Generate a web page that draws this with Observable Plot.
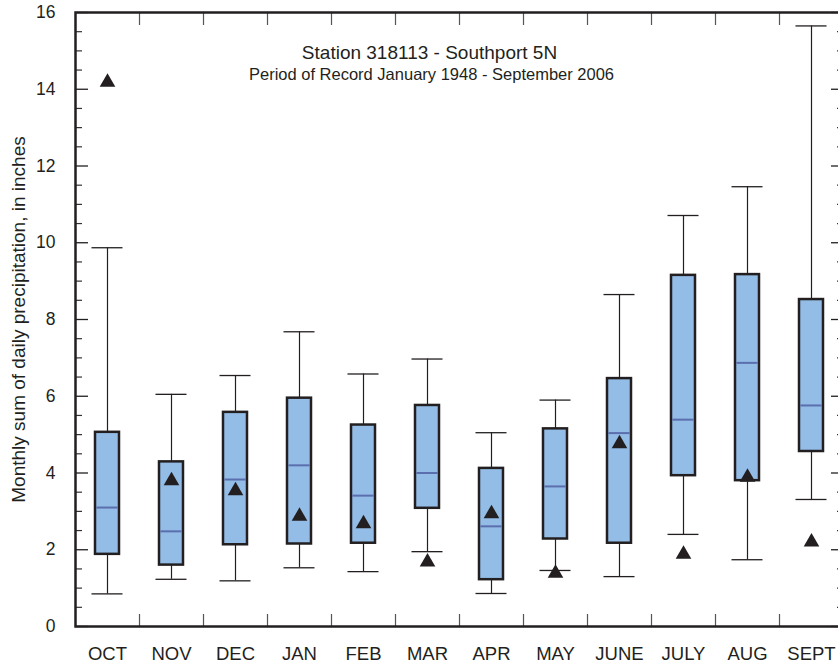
<!DOCTYPE html>
<html><head><meta charset="utf-8">
<script src="https://cdn.jsdelivr.net/npm/d3@7"></script>
<script src="https://cdn.jsdelivr.net/npm/@observablehq/plot@0.6"></script>
<style>
html,body{margin:0;padding:0;background:#fff;overflow:hidden;}
#chart{width:838px;height:667px;overflow:hidden;}
#chart svg{display:block;max-width:none !important;}
</style>
</head><body><div id="chart"></div>
<script>
const months = ["OCT","NOV","DEC","JAN","FEB","MAR","APR","MAY","JUNE","JULY","AUG","SEPT"];
const whiskerHigh = [9.87, 6.05, 6.54, 7.68, 6.58, 6.97, 5.05, 5.90, 8.65, 10.71, 11.46, 15.65];
const q3 = [5.06, 4.29, 5.58, 5.95, 5.25, 5.76, 4.12, 5.15, 6.46, 9.15, 9.17, 8.52];
const median = [3.10, 2.48, 3.83, 4.20, 3.41, 4.00, 2.61, 3.65, 5.04, 5.39, 6.87, 5.76];
const q1 = [1.88, 1.60, 2.13, 2.15, 2.17, 3.08, 1.22, 2.28, 2.17, 3.93, 3.80, 4.56];
const whiskerLow = [0.85, 1.23, 1.19, 1.53, 1.43, 1.95, 0.86, 1.46, 1.30, 2.40, 1.74, 3.31];
const observed = [14.18, 3.80, 3.54, 2.87, 2.68, 1.68, 2.94, 1.39, 4.76, 1.88, 3.89, 2.20];
const yMajorTicks = [0, 2, 4, 6, 8, 10, 12, 14, 16];
const yMinorTicks = [0.5,1,1.5,2.5,3,3.5,4.5,5,5.5,6.5,7,7.5,8.5,9,9.5,10.5,11,11.5,12.5,13,13.5,14.5,15,15.5];
const title = "Station 318113 - Southport 5N";
const subtitle = "Period of Record January 1948 - September 2006";
const yLabel = "Monthly sum of daily precipitation, in inches";

const data = months.map((m, i) => ({
  month: m, lo: whiskerLow[i], q1: q1[i], med: median[i], q3: q3[i], hi: whiskerHigh[i], obs: observed[i]
}));

const ink = "#231f20";
const font = "'Liberation Sans', Arial, sans-serif";

const plot = Plot.plot({
  width: 845, height: 667,
  marginLeft: 75, marginRight: 2, marginTop: 12, marginBottom: 41,
  style: {fontFamily: font, background: "#fff", color: ink},
  x: {domain: months, padding: 0, axis: null},
  y: {domain: [0, 16], axis: null},
  marks: [
    // y tick labels
    Plot.axisY({ticks: yMajorTicks, tickSize: 0, tickPadding: 20, fontSize: 17.5, label: null}),
    // y axis title
    Plot.text([yLabel], {frameAnchor: "left", textAnchor: "middle", rotate: -90, dx: -57, fontSize: 19, fill: ink}),
    // left inward ticks
    Plot.axisY({ticks: yMajorTicks, tickSize: -13, text: null, label: null, stroke: ink, strokeWidth: 1.3}),
    Plot.axisY({ticks: yMinorTicks, tickSize: -7, text: null, label: null, stroke: "#333", strokeWidth: 1.2}),
    // right inward ticks
    Plot.axisY({anchor: "right", ticks: yMajorTicks, tickSize: -13, text: null, label: null, stroke: ink, strokeWidth: 1.3}),
    Plot.axisY({anchor: "right", ticks: yMinorTicks, tickSize: -7, text: null, label: null, stroke: "#333", strokeWidth: 1.2}),
    // x labels
    Plot.axisX({ticks: months, tickSize: 0, tickPadding: 20, fontSize: 18.5, label: null}),
    // x boundary ticks
    Plot.axisX({ticks: months.slice(1), tickSize: -12, text: null, label: null, dx: -32, stroke: "#555", strokeWidth: 1.2}),
    Plot.axisX({anchor: "top", ticks: months.slice(1), tickSize: -12, text: null, label: null, dx: -32, stroke: "#555", strokeWidth: 1.2}),
    // whiskers
    Plot.ruleX(data, {x: "month", y1: "lo", y2: "hi", stroke: ink, strokeWidth: 1.2}),
    Plot.tickY(data, {x: "month", y: "hi", insetLeft: 16.5, insetRight: 16.5, stroke: ink, strokeWidth: 1.3}),
    Plot.tickY(data, {x: "month", y: "lo", insetLeft: 16.5, insetRight: 16.5, stroke: ink, strokeWidth: 1.3}),
    // boxes
    Plot.barY(data, {x: "month", y1: "q1", y2: "q3", insetLeft: 20, insetRight: 20, fill: "#93bde6", stroke: ink, strokeWidth: 2.5}),
    Plot.tickY(data, {x: "month", y: "med", insetLeft: 21.3, insetRight: 21.3, stroke: "#5b6fae", strokeWidth: 2}),
    // observed triangles
    Plot.dot(data, {x: "month", y: "obs", symbol: "triangle", r: 5.8, fill: ink, stroke: null}),
    // titles
    Plot.text([title], {frameAnchor: "top", dx: -30, dy: 33, fontSize: 19, fill: ink}),
    Plot.text([subtitle], {frameAnchor: "top", dx: -28, dy: 56, fontSize: 16.5, fill: ink}),
    Plot.frame({stroke: ink, strokeWidth: 2.5})
  ]
});
document.getElementById("chart").appendChild(plot);
</script>
</body></html>
